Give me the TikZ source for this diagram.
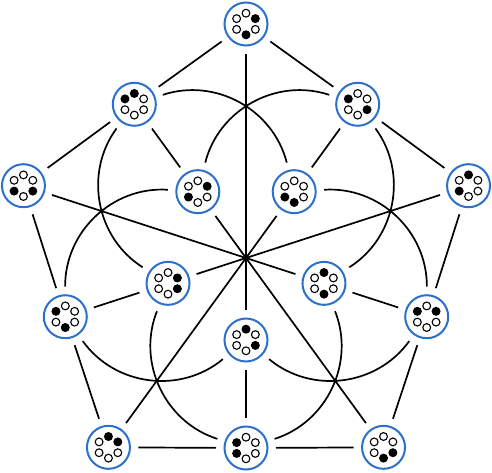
\documentclass[tikz,border=0pt]{standalone}
\usepackage{tikz}
\definecolor{vblue}{RGB}{44,112,204}
\tikzstyle{edge} = [line width=1.7pt, black]
\tikzset{
  vertex/.style 2 args={circle, draw=vblue, line width=2pt, fill=white,
    minimum size=43pt, inner sep=0pt, outer sep=8.5pt,
    path picture={
      \foreach \k in {1,...,6} {
        \ifnum\k=#1 \def\dotcol{black}\else\ifnum\k=#2 \def\dotcol{black}\else\def\dotcol{white}\fi\fi
        \draw [draw=black, line width=1.1pt, fill=\dotcol] (path picture bounding box.center) ++(150-60*\k:10.8pt) circle (3.9pt);
      }
    }}
}

\begin{document}
\begin{tikzpicture}[x=1pt, y=1pt]
\useasboundingbox (-246,-214) rectangle (246,258);

\node (p24) [vertex={2}{4}] at (90:234) {};
\node (p15) [vertex={1}{5}] at (18:234) {};
\node (p34) [vertex={3}{4}] at (-54:234) {};
\node (p12) [vertex={1}{2}] at (234:234) {};
\node (p35) [vertex={3}{5}] at (162:234) {};

\node (p36) [vertex={3}{6}] at (54:190) {};
\node (p26) [vertex={2}{6}] at (-18:190) {};
\node (p56) [vertex={5}{6}] at (270:190) {};
\node (p46) [vertex={4}{6}] at (198:190) {};
\node (p16) [vertex={1}{6}] at (126:190) {};

\node (p45) [vertex={4}{5}] at (54:82) {};
\node (p14) [vertex={1}{4}] at (-18:82) {};
\node (p13) [vertex={1}{3}] at (270:82) {};
\node (p23) [vertex={2}{3}] at (198:82) {};
\node (p25) [vertex={2}{5}] at (126:82) {};

\draw [edge] (p24) -- (p36);
\draw [edge] (p36) -- (p15);
\draw [edge] (p15) -- (p26);
\draw [edge] (p26) -- (p34);
\draw [edge] (p34) -- (p56);
\draw [edge] (p56) -- (p12);
\draw [edge] (p12) -- (p46);
\draw [edge] (p46) -- (p35);
\draw [edge] (p35) -- (p16);
\draw [edge] (p16) -- (p24);

\draw [edge] (p24) -- (p13);
\draw [edge] (p15) -- (p23);
\draw [edge] (p34) -- (p25);
\draw [edge] (p12) -- (p45);
\draw [edge] (p35) -- (p14);

\draw [edge] (p36) -- (p45);
\draw [edge] (p26) -- (p14);
\draw [edge] (p56) -- (p13);
\draw [edge] (p46) -- (p23);
\draw [edge] (p16) -- (p25);

\draw [edge] (p16) to[bend left=47] (p45);
\draw [edge] (p36) to[bend left=47] (p14);
\draw [edge] (p26) to[bend left=47] (p13);
\draw [edge] (p56) to[bend left=47] (p23);
\draw [edge] (p46) to[bend left=47] (p25);

\draw [edge] (p16) to[bend right=47] (p23);
\draw [edge] (p36) to[bend right=47] (p25);
\draw [edge] (p26) to[bend right=47] (p45);
\draw [edge] (p56) to[bend right=47] (p14);
\draw [edge] (p46) to[bend right=47] (p13);

\end{tikzpicture}
\end{document}
